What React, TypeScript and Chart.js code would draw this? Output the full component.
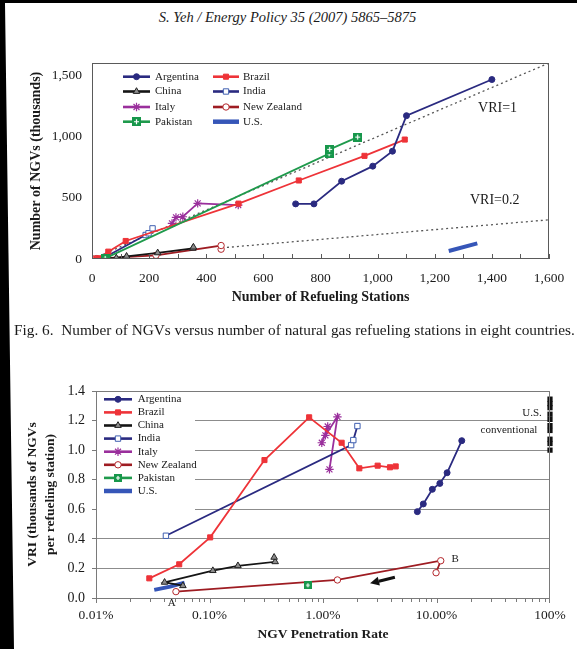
import React, { useEffect, useRef } from 'react';
import { Chart, registerables } from 'chart.js';
import { drawPoint } from 'chart.js/helpers';

Chart.register(...registerables);

const FONT = '"Liberation Serif", "Times New Roman", serif';

// ---------- Fig. 6: NGVs (thousands) vs refueling stations ----------
const ARG_STATIONS = [713, 777, 874, 983, 1052, 1101, 1400];
const ARG_NGVS = [450, 450, 635, 758, 880, 1170, 1465];
const BRA_STATIONS = [15, 25, 57, 118, 513, 724, 954, 1095];
const BRA_NGVS = [2, 6, 60, 147, 452, 641, 842, 975];
const CHN_STATIONS = [60, 85, 121, 230, 353, 355];
const CHN_NGVS = [5, 9, 22, 50, 87, 97];
const IND_STATIONS = [50, 188, 198, 212];
const IND_NGVS = [21, 196, 210, 250];
const ITA_STATIONS = [280, 294, 318, 370, 512];
const ITA_NGVS = [291, 340, 345, 454, 440];
const NZL_STATIONS = [452, 452, 224, 15, 0];
const NZL_NGVS = [80, 110, 30, 3, 3];
const PAK_STATIONS = [46, 830, 832, 930];
const PAK_NGVS = [5, 860, 895, 995];
const US_STATIONS = [1249, 1349];
const US_NGVS = [65, 128];
const VRI1_X = [0, 1600];
const VRI1_Y = [0, 1600];
const VRI02_X = [455, 1600];
const VRI02_Y = [91, 320];

const X1_TICKS = [0, 200, 400, 600, 800, 1000, 1200, 1400, 1600];
const X1_LABELS = ['0', '200', '400', '600', '800', '1,000', '1,200', '1,400', '1,600'];
const Y1_TICKS = [0, 500, 1000, 1500];
const Y1_LABELS = ['0', '500', '1,000', '1,500'];

// ---------- Fig. 7: VRI vs NGV penetration rate (%) ----------
const ARG_PEN = [6.78, 7.65, 9.19, 10.7, 12.4, 16.7];
const ARG_VRI = [0.584, 0.636, 0.735, 0.775, 0.847, 1.064];
const BRA_PEN = [0.0295, 0.0541, 0.1014, 0.305, 0.755, 1.46, 2.09, 3.03, 3.89, 4.37];
const BRA_VRI = [0.133, 0.228, 0.41, 0.933, 1.222, 1.05, 0.877, 0.895, 0.884, 0.89];
const CHN_PEN = [0.0583, 0.0402, 0.107, 0.178, 0.379, 0.371];
const CHN_VRI = [0.083, 0.106, 0.185, 0.218, 0.245, 0.275];
const IND_PEN = [0.0413, 1.77, 1.85, 2.01];
const IND_VRI = [0.421, 1.034, 1.068, 1.163];
const ITA_PEN = [0.976, 1.1, 1.05, 1.34, 1.14];
const ITA_VRI = [1.05, 1.16, 1.1, 1.225, 0.87];
const NZL_PEN = [9.91, 10.9, 1.34, 0.0506];
const NZL_VRI = [0.171, 0.252, 0.122, 0.043];
const PAK_PEN = [0.735];
const PAK_VRI = [0.086];
const US_PEN = [0.0326, 0.045, 0.0603];
const US_VRI = [0.055, 0.077, 0.104];
const USCONV_PEN = [100, 100, 100, 100, 100, 100, 100, 100, 100, 100];
const USCONV_VRI = [1.0, 1.045, 1.074, 1.133, 1.166, 1.208, 1.243, 1.287, 1.315, 1.345];
const ARROW_FROM = [4.3, 0.14];
const ARROW_TO = [2.6, 0.099];

const X2_TICKS = [0.01, 0.1, 1, 10, 100];
const X2_LABELS = ['0.01%', '0.10%', '1.00%', '10.00%', '100%'];
const Y2_TICKS = [0, 0.2, 0.4, 0.6, 0.8, 1.0, 1.2, 1.4];
const Y2_LABELS = ['0.0', '0.2', '0.4', '0.6', '0.8', '1.0', '1.2', '1.4'];

type St = { line: string; width: number; point: any; radius: number; fill: string; border: string; bw: number };

function makePlus(size: number): HTMLCanvasElement {
  const c = document.createElement('canvas');
  c.width = size;
  c.height = size;
  const g = c.getContext('2d')!;
  g.fillStyle = '#17974b';
  g.fillRect(0, 0, size, size);
  g.strokeStyle = '#ffffff';
  g.lineWidth = 1.2;
  const m = size / 2;
  g.beginPath();
  g.moveTo(m, 2);
  g.lineTo(m, size - 2);
  g.moveTo(2, m);
  g.lineTo(size - 2, m);
  g.stroke();
  return c;
}

function makeStyles(plus: HTMLCanvasElement): Record<string, St> {
  return {
    Argentina: { line: '#2a2a80', width: 1.8, point: 'circle', radius: 3, fill: '#2a2a80', border: '#2a2a80', bw: 1 },
    Brazil: { line: '#ee3338', width: 1.8, point: 'rect', radius: 3.6, fill: '#ee3338', border: '#ee3338', bw: 1 },
    China: { line: '#151515', width: 1.8, point: 'triangle', radius: 3.8, fill: '#8c8c8c', border: '#222222', bw: 1 },
    India: { line: '#2a2a80', width: 1.8, point: 'rect', radius: 3.8, fill: '#ffffff', border: '#3f5fb0', bw: 1 },
    Italy: { line: '#9a2f9c', width: 1.8, point: 'star', radius: 4.2, fill: '#9a2f9c', border: '#9a2f9c', bw: 1.2 },
    'New Zealand': { line: '#9e1c22', width: 1.8, point: 'circle', radius: 3.2, fill: '#ffffff', border: '#b3262b', bw: 1 },
    Pakistan: { line: '#1f9a4c', width: 1.8, point: plus, radius: 4, fill: '#17974b', border: '#17974b', bw: 1 },
    'U.S.': { line: '#3656b8', width: 4, point: 'circle', radius: 0, fill: '#3656b8', border: '#3656b8', bw: 0 },
  };
}

function ds(label: string, xs: number[], ys: number[], st: St, extra: any = {}) {
  return {
    label,
    data: xs.map((x, i) => ({ x, y: ys[i] })),
    borderColor: st.line,
    backgroundColor: st.fill,
    borderWidth: st.width,
    pointStyle: st.point,
    pointRadius: st.radius,
    pointBorderColor: st.border,
    pointBackgroundColor: st.fill,
    pointBorderWidth: st.bw,
    tension: 0,
    ...extra,
  };
}

function drawLegend(ctx: CanvasRenderingContext2D, styles: Record<string, St>, entries: any[], font: string) {
  entries.forEach((e) => {
    const st = styles[e.name];
    ctx.strokeStyle = st.line;
    ctx.lineWidth = st.width > 3 ? 4.5 : 2.6;
    ctx.beginPath();
    ctx.moveTo(e.x0, e.y);
    ctx.lineTo(e.x1, e.y);
    ctx.stroke();
    if (st.radius > 0) {
      ctx.fillStyle = st.fill;
      ctx.strokeStyle = st.border;
      ctx.lineWidth = st.bw;
      drawPoint(ctx, { pointStyle: st.point, radius: st.radius, borderWidth: st.bw, rotation: 0 } as any, (e.x0 + e.x1) / 2, e.y);
    }
    ctx.fillStyle = '#1a1a1a';
    ctx.font = font;
    ctx.textAlign = 'left';
    ctx.textBaseline = 'middle';
    ctx.fillText(e.name, e.tx, e.y);
  });
}

export default function App() {
  const c1 = useRef<HTMLCanvasElement>(null);
  const c2 = useRef<HTMLCanvasElement>(null);

  useEffect(() => {
    const s1 = makeStyles(makePlus(9));
    const s2 = makeStyles(makePlus(8));
    const refLine = (xs: number[], ys: number[]) => ({
      label: 'ref',
      data: xs.map((x, i) => ({ x, y: ys[i] })),
      borderColor: '#555555',
      borderWidth: 1.3,
      borderDash: [2, 3],
      pointRadius: 0,
      order: 10,
    });

    const legend1 = [
      { name: 'Argentina', x0: 123, x1: 150, tx: 155, y: 76.7 },
      { name: 'China', x0: 123, x1: 150, tx: 155, y: 91.5 },
      { name: 'Italy', x0: 123, x1: 150, tx: 155, y: 107 },
      { name: 'Pakistan', x0: 123, x1: 150, tx: 155, y: 121.7 },
      { name: 'Brazil', x0: 213, x1: 239, tx: 243, y: 76.7 },
      { name: 'India', x0: 213, x1: 239, tx: 243, y: 91.5 },
      { name: 'New Zealand', x0: 213, x1: 239, tx: 243, y: 107 },
      { name: 'U.S.', x0: 213, x1: 239, tx: 243, y: 121.7 },
    ];

    const plugin1 = {
      id: 'fig6Decor',
      afterDraw(chart: any) {
        const { ctx, chartArea: a, scales } = chart;
        const xs = scales.x;
        const ys = scales.y;
        ctx.save();
        ctx.strokeStyle = '#5a5a5a';
        ctx.lineWidth = 1;
        ctx.strokeRect(a.left + 0.5, a.top + 0.5, a.right - a.left - 1, a.bottom - a.top - 1);
        ctx.beginPath();
        for (let v = 0; v <= 1600; v += 100) {
          const px = Math.round(xs.getPixelForValue(v)) + 0.5;
          ctx.moveTo(px, a.bottom);
          ctx.lineTo(px, a.bottom - 5);
        }
        ctx.stroke();
        ctx.fillStyle = '#1a1a1a';
        ctx.font = `14px ${FONT}`;
        ctx.textAlign = 'center';
        ctx.textBaseline = 'middle';
        ctx.fillText('VRI=1', xs.getPixelForValue(1420), ys.getPixelForValue(1230));
        ctx.fillText('VRI=0.2', xs.getPixelForValue(1410), ys.getPixelForValue(475));
        drawLegend(ctx, s1, legend1, `11px ${FONT}`);
        ctx.restore();
      },
    };

    const chart1 = new Chart(c1.current!, {
      type: 'line',
      data: {
        datasets: [
          ds('Argentina', ARG_STATIONS, ARG_NGVS, s1['Argentina']),
          ds('Pakistan', PAK_STATIONS, PAK_NGVS, s1['Pakistan']),
          ds('Brazil', BRA_STATIONS, BRA_NGVS, s1['Brazil']),
          ds('China', CHN_STATIONS, CHN_NGVS, s1['China']),
          ds('India', IND_STATIONS, IND_NGVS, s1['India']),
          ds('Italy', ITA_STATIONS, ITA_NGVS, s1['Italy']),
          ds('New Zealand', NZL_STATIONS, NZL_NGVS, s1['New Zealand']),
          ds('U.S.', US_STATIONS, US_NGVS, s1['U.S.']),
          refLine(VRI1_X, VRI1_Y),
          refLine(VRI02_X, VRI02_Y),
        ] as any,
      },
      options: {
        responsive: false,
        maintainAspectRatio: false,
        animation: false,
        events: [],
        layout: { padding: { left: 0, right: 28, top: 63, bottom: 340 } },
        plugins: { legend: { display: false }, tooltip: { enabled: false } },
        scales: {
          x: {
            type: 'linear',
            min: 0,
            max: 1600,
            afterBuildTicks: (s: any) => { s.ticks = X1_TICKS.map((v) => ({ value: v })); },
            afterFit: (s: any) => { s.height = 50; },
            grid: { display: false, drawTicks: false },
            border: { display: false },
            ticks: {
              padding: 11,
              color: '#1a1a1a',
              font: { family: FONT, size: 13.5 },
              maxRotation: 0,
              autoSkip: false,
              callback: (_v: any, i: number) => X1_LABELS[i],
            },
            title: {
              display: true,
              text: 'Number of Refueling Stations',
              color: '#1a1a1a',
              font: { family: FONT, size: 14, weight: 'bold' },
              padding: { top: 0, bottom: 3.6 },
            },
          },
          y: {
            type: 'linear',
            min: 0,
            max: 1600,
            afterBuildTicks: (s: any) => { s.ticks = Y1_TICKS.map((v) => ({ value: v })); },
            afterFit: (s: any) => { s.width = 92; },
            grid: { display: false, drawTicks: false },
            border: { display: false },
            ticks: {
              padding: 10,
              color: '#1a1a1a',
              font: { family: FONT, size: 13.5 },
              autoSkip: false,
              callback: (_v: any, i: number) => Y1_LABELS[i],
            },
            title: {
              display: true,
              text: 'Number of NGVs (thousands)',
              color: '#1a1a1a',
              font: { family: FONT, size: 14, weight: 'bold' },
              padding: { top: 27.6, bottom: 0 },
            },
          },
        },
      } as any,
      plugins: [plugin1 as any],
    });

    const legend2 = ['Argentina', 'Brazil', 'China', 'India', 'Italy', 'New Zealand', 'Pakistan', 'U.S.'].map((name, i) => ({
      name,
      x0: 104,
      x1: 132,
      tx: 137.7,
      y: 399.3 + i * 13.1,
    }));

    const plugin2 = {
      id: 'fig7Decor',
      beforeDatasetsDraw(chart: any) {
        const { ctx, chartArea: a } = chart;
        ctx.save();
        ctx.fillStyle = '#ffffff';
        ctx.fillRect(a.left + 1, a.top + 1, 98, 128);
        ctx.restore();
      },
      afterDraw(chart: any) {
        const { ctx, chartArea: a, scales } = chart;
        const xs = scales.x;
        const ys = scales.y;
        ctx.save();
        ctx.strokeStyle = '#7a7a7a';
        ctx.lineWidth = 1;
        ctx.strokeRect(a.left + 0.5, a.top + 0.5, a.right - a.left - 1, a.bottom - a.top);
        ctx.beginPath();
        for (let d = 0.01; d < 50; d *= 10) {
          for (let k = 1; k <= 9; k++) {
            const px = Math.round(xs.getPixelForValue(d * k)) + 0.5;
            ctx.moveTo(px, a.bottom);
            ctx.lineTo(px, a.bottom + (k === 1 ? 5 : 4));
          }
        }
        const pe = Math.round(xs.getPixelForValue(100)) - 0.5;
        ctx.moveTo(pe, a.bottom);
        ctx.lineTo(pe, a.bottom + 5);
        ctx.stroke();

        // arrow
        const fx = xs.getPixelForValue(ARROW_FROM[0]);
        const fy = ys.getPixelForValue(ARROW_FROM[1]);
        const tx = xs.getPixelForValue(ARROW_TO[0]);
        const ty = ys.getPixelForValue(ARROW_TO[1]);
        const ang = Math.atan2(ty - fy, tx - fx);
        const hl = 9;
        const bx = tx - hl * Math.cos(ang);
        const by = ty - hl * Math.sin(ang);
        ctx.strokeStyle = '#111111';
        ctx.fillStyle = '#111111';
        ctx.lineWidth = 3.2;
        ctx.beginPath();
        ctx.moveTo(fx, fy);
        ctx.lineTo(bx, by);
        ctx.stroke();
        ctx.beginPath();
        ctx.moveTo(tx, ty);
        ctx.lineTo(bx + 4.5 * Math.sin(ang), by - 4.5 * Math.cos(ang));
        ctx.lineTo(bx - 4.5 * Math.sin(ang), by + 4.5 * Math.cos(ang));
        ctx.closePath();
        ctx.fill();

        ctx.fillStyle = '#1a1a1a';
        ctx.font = `11px ${FONT}`;
        ctx.textAlign = 'center';
        ctx.textBaseline = 'middle';
        ctx.fillText('U.S.', 532, 412.7);
        ctx.fillText('conventional', 509, 430);
        ctx.fillText('A', xs.getPixelForValue(0.0465), a.bottom + 5);
        ctx.fillText('B', xs.getPixelForValue(14.6), ys.getPixelForValue(0.264));
        drawLegend(ctx, s2, legend2, `11px ${FONT}`);
        ctx.restore();
      },
    };

    const chart2 = new Chart(c2.current!, {
      type: 'line',
      data: {
        datasets: [
          ds('Argentina', ARG_PEN, ARG_VRI, s2['Argentina']),
          ds('Pakistan', PAK_PEN, PAK_VRI, s2['Pakistan']),
          ds('Brazil', BRA_PEN, BRA_VRI, s2['Brazil']),
          ds('China', CHN_PEN, CHN_VRI, s2['China']),
          ds('India', IND_PEN, IND_VRI, s2['India']),
          ds('Italy', ITA_PEN, ITA_VRI, s2['Italy']),
          ds('New Zealand', NZL_PEN, NZL_VRI, s2['New Zealand']),
          ds('U.S.', US_PEN, US_VRI, s2['U.S.']),
          {
            label: 'U.S. conventional',
            data: USCONV_PEN.map((x, i) => ({ x, y: USCONV_VRI[i] })),
            showLine: false,
            pointStyle: 'rect',
            pointRadius: 3.7,
            pointBackgroundColor: '#111111',
            pointBorderColor: '#111111',
            pointBorderWidth: 0,
            clip: false,
          },
        ] as any,
      },
      options: {
        responsive: false,
        maintainAspectRatio: false,
        animation: false,
        events: [],
        layout: { padding: { left: 0, right: 27, top: 391, bottom: 6 } },
        plugins: { legend: { display: false }, tooltip: { enabled: false } },
        scales: {
          x: {
            type: 'logarithmic',
            min: 0.01,
            max: 100,
            afterBuildTicks: (s: any) => { s.ticks = X2_TICKS.map((v) => ({ value: v })); },
            afterFit: (s: any) => { s.height = 45; },
            grid: { display: false, drawTicks: false },
            border: { display: false },
            ticks: {
              padding: 9,
              color: '#1a1a1a',
              font: { family: FONT, size: 13.5 },
              maxRotation: 0,
              autoSkip: false,
              callback: (_v: any, i: number) => X2_LABELS[i],
            },
            title: {
              display: true,
              text: 'NGV Penetration Rate',
              color: '#1a1a1a',
              font: { family: FONT, size: 13.5, weight: 'bold' },
              padding: { top: 0, bottom: 0 },
            },
          },
          y: {
            type: 'linear',
            min: 0,
            max: 1.4,
            afterBuildTicks: (s: any) => { s.ticks = Y2_TICKS.map((v) => ({ value: v })); },
            afterFit: (s: any) => { s.width = 96; },
            grid: {
              display: true,
              drawTicks: true,
              tickLength: 4,
              tickColor: '#7a7a7a',
              lineWidth: 1,
              color: (c: any) => (c.tick && (c.tick.value === 0 || c.tick.value > 1.39) ? 'rgba(0,0,0,0)' : '#8c8c8c'),
            },
            border: { display: false },
            ticks: {
              padding: 7,
              color: '#1a1a1a',
              font: { family: FONT, size: 14 },
              autoSkip: false,
              callback: (_v: any, i: number) => Y2_LABELS[i],
            },
            title: {
              display: true,
              text: ['VRI (thousands of NGVs', 'per refueling station)'],
              color: '#1a1a1a',
              font: { family: FONT, size: 13.5, weight: 'bold', lineHeight: 1.3 },
              padding: { top: 24, bottom: 0 },
            },
          },
        },
      } as any,
      plugins: [plugin2 as any],
    });

    return () => {
      chart1.destroy();
      chart2.destroy();
    };
  }, []);

  const full: React.CSSProperties = { position: 'absolute', left: 0, top: 0, width: 577, height: 649 };

  return (
    <div style={{ ...full, background: '#ffffff', overflow: 'hidden' }}>
      <div
        style={{
          position: 'absolute',
          left: 0,
          width: 575,
          top: 10,
          textAlign: 'center',
          fontFamily: FONT,
          fontStyle: 'italic',
          fontSize: 14.5,
          lineHeight: 1,
          color: '#1a1a1a',
          whiteSpace: 'nowrap',
        }}
      >
        S. Yeh / Energy Policy 35 (2007) 5865–5875
      </div>
      <canvas ref={c1} width={577} height={649} style={{ ...full }} />
      <div
        style={{
          position: 'absolute',
          left: 14,
          top: 322,
          fontFamily: FONT,
          fontSize: 15.3,
          lineHeight: 1,
          color: '#1a1a1a',
          whiteSpace: 'nowrap',
        }}
      >
        Fig. 6.{'\u2002'}Number of NGVs versus number of natural gas refueling stations in eight countries.
      </div>
      <canvas ref={c2} width={577} height={649} style={{ ...full }} />
      <div
        style={{
          ...full,
          background: '#000000',
          clipPath: 'polygon(0 0, 577px 0, 577px 3px, 5px 3px, 14px 649px, 0 649px)',
        }}
      />
    </div>
  );
}
